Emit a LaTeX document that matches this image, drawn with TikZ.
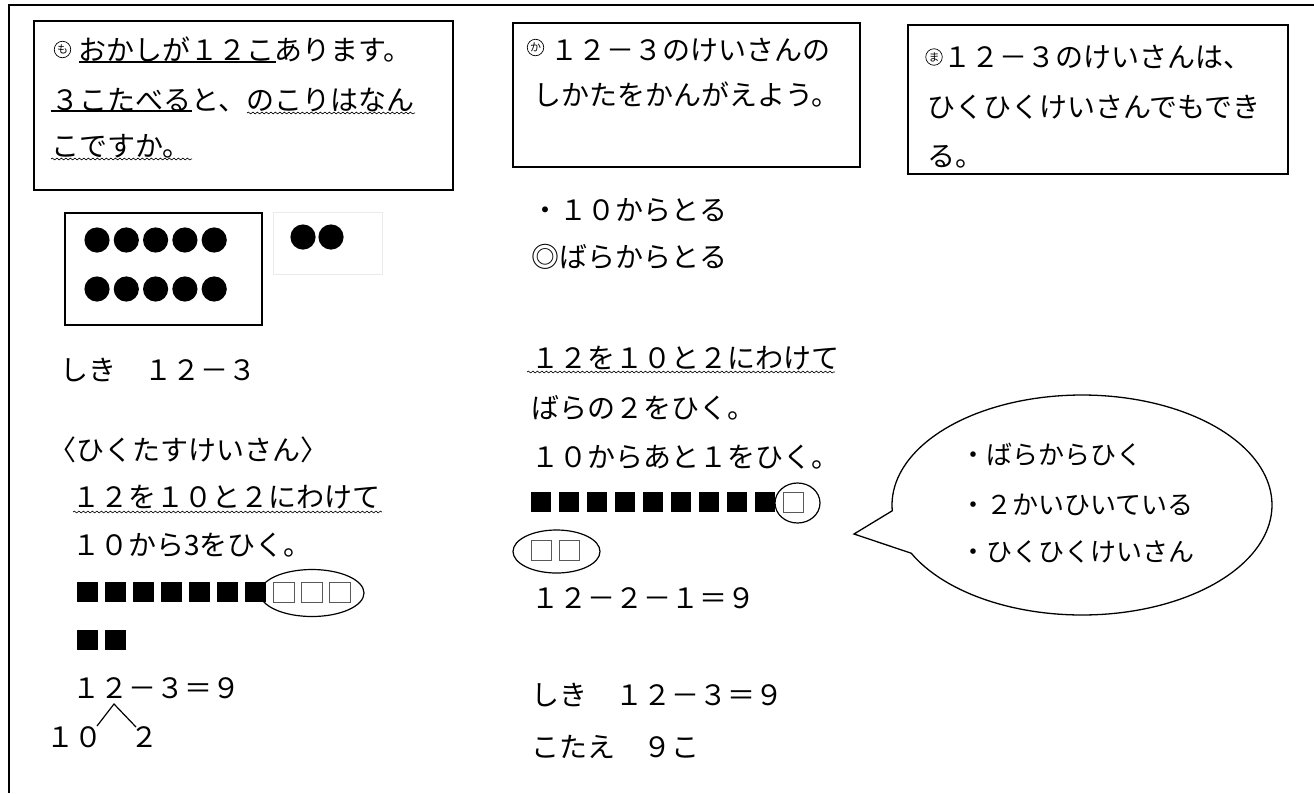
\documentclass[tikz,border=0pt]{standalone}
\usepackage{fontspec}
\newfontfamily\jp{Noto Sans CJK JP}
\usetikzlibrary{decorations.pathmorphing}

\begin{document}
\begin{tikzpicture}[x=1pt,y=-1pt,
  txt/.style={anchor=west,inner sep=0pt,text height=24.6pt,text depth=3.4pt,font=\jp\fontsize{28}{32}\selectfont},
  bub/.style={anchor=west,inner sep=0pt,text height=22.9pt,text depth=3.1pt,font=\jp\fontsize{26}{30}\selectfont},
  frame/.style={draw,line width=2pt},
  maru/.style={draw,circle,line width=0.7pt,inner sep=0pt,minimum size=16.5pt,font=\jp\fontsize{11}{11}\selectfont},
  wavy/.style={decorate,decoration={snake,amplitude=0.9pt,segment length=4.5pt},line width=0.6pt},
  bar/.style={line width=1.8pt},
  wht/.style={draw=black!65,line width=1pt,fill=white}]
\useasboundingbox (0,0) rectangle (1314,793);
\draw[line width=1.5pt] (9,793) -- (9,5) -- (1314,5);

\draw[frame] (34,21) rectangle (453,190);
\node[maru] (mo) at (62.5,49.5) {も};
\node[txt] (q1) at (78,50) {おかしが１２こあります。};
\node[txt] (q2) at (51,100) {３こたべると、のこりはなん};
\node[txt] (q3) at (51,146) {こですか。};
\draw[bar] (79,62) -- (276,62);
\draw[bar] (51,111) -- (192,111);
\draw[wavy] (247,113) -- (415,113);
\draw[wavy] (51,159) -- (192,159);

\draw[frame] (513,23) rectangle (860,167);
\node[maru] (ka) at (535.5,47.5) {か};
\node[txt] (k1) at (550,50) {１２－３のけいさんの};
\node[txt] (k2) at (533,95) {しかたをかんがえよう。};

\draw[frame] (908,25) rectangle (1288,174);
\node[maru] (ma) at (934,57) {ま};
\node[txt] (m1) at (943,57) {１２－３のけいさんは、};
\node[txt] (m2) at (927,107) {ひくひくけいさんでもでき};
\node[txt] (m3) at (927,156) {る。};

\draw[line width=1.4pt] (65,213) rectangle (262,325);
\foreach \i in {0,...,4} {
  \fill (97+29.3*\i,240) circle (12.6);
  \fill (97+29.3*\i,289) circle (12.6);
}
\draw[black!8] (273,212) rectangle (382,274);
\fill (303,237) circle (12.6);
\fill (331,237) circle (12.6);

\node[txt] (shiki1) at (60,370) {しき　１２－３};
\node[txt] (hikutasu) at (48,450) {〈ひくたすけいさん〉};
\node[txt] (wake1) at (72,497) {１２を１０と２にわけて};
\draw[wavy] (73,512) -- (382,512);
\node[txt] (kara1) at (72,545) {１０から3をひく。};
\foreach \i in {0,...,6} \fill (77+28*\i,582) rectangle ++(21,20);
\foreach \i in {7,8,9} \draw[wht] (77+28*\i,582) rectangle ++(21,20);
\draw[line width=1.2pt] (312,593) ellipse [x radius=52,y radius=23.5];
\foreach \i in {0,1} \fill (77+28*\i,630) rectangle ++(21,20);
\node[txt] (shiki2) at (72,688) {１２－３＝９};
\node[txt] (ten) at (46,737) {１０};
\node[txt] (two) at (130,737) {２};
\coordinate (apex) at (114,704);
\coordinate (legl) at (97,726);
\coordinate (legr) at (136,727);
\draw[line width=1.2pt] (legl) -- (apex) -- (legr);

\node[txt] (toru1) at (531,210) {・１０からとる};
\node[txt] (toru2) at (531,257) {◎ばらからとる};
\node[txt] (wake2) at (531,358) {１２を１０と２にわけて};
\draw[wavy] (527,372) -- (835,372);
\node[txt] (bara) at (531,408) {ばらの２をひく。};
\node[txt] (ato) at (531,457) {１０からあと１をひく。};
\foreach \i in {0,...,8} \fill (531+28*\i,492) rectangle ++(20,20);
\draw[wht] (783,492) rectangle ++(20,20);
\draw[line width=1.2pt] (797.5,503) ellipse [x radius=22.5,y radius=20];
\foreach \i in {0,1} \draw[wht] (531+28*\i,540) rectangle ++(20,20);
\draw[line width=1.2pt] (556.5,551.5) ellipse [x radius=43.5,y radius=21.5];
\node[txt] (eq) at (531,598) {１２－２－１＝９};
\node[txt] (shiki3) at (531,695) {しき　１２－３＝９};
\node[txt] (kotae) at (531,747) {こたえ　９こ};

\coordinate (tip) at (854,534);
\draw[line width=1.3pt,fill=white] plot[domain=206:543,samples=160] ({1082+190*cos(\x)},{505-110*sin(\x)}) -- (tip) -- cycle;
\node[bub] (b1) at (960,455) {・ばらからひく};
\node[bub] (b2) at (960,505) {・２かいひいている};
\node[bub] (b3) at (960,552) {・ひくひくけいさん};
\end{tikzpicture}
\end{document}
